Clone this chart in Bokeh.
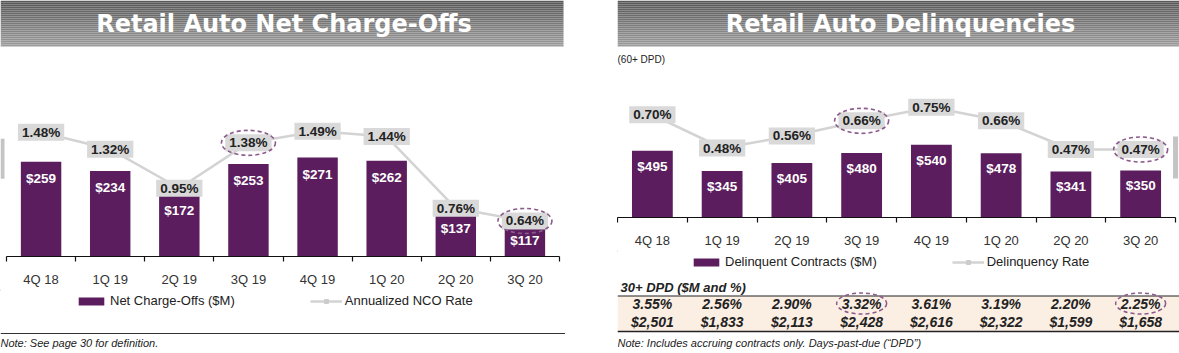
import numpy as np
from bokeh.plotting import figure
from bokeh.models import (Range1d, LinearAxis, FixedTicker, Legend, LegendItem, Spacer, Grid)
from bokeh.layouts import row, column
from bokeh.core.properties import value
from bokeh.embed import file_html
from bokeh.resources import INLINE

# ---------------- data ----------------
quarters = ["4Q 18", "1Q 19", "2Q 19", "3Q 19", "4Q 19", "1Q 20", "2Q 20", "3Q 20"]
nco_usd = [259, 234, 172, 253, 271, 262, 137, 117]
nco_rate = [1.48, 1.32, 0.95, 1.38, 1.49, 1.44, 0.76, 0.64]
dlq_usd = [495, 345, 405, 480, 540, 478, 341, 350]
dlq_rate = [0.70, 0.48, 0.56, 0.66, 0.75, 0.66, 0.47, 0.47]
dpd30_rate = [3.55, 2.56, 2.90, 3.32, 3.61, 3.19, 2.20, 2.25]
dpd30_usd = [2501, 1833, 2113, 2428, 2616, 2322, 1599, 1658]
highlight = ["3Q 19", "3Q 20"]

# ---------------- styles ----------------
BAR = "#5b1d5e"
LINE_GRAY = "#d3d3d3"
BOX_GRAY = "#d9d9d9"
HL = "#8c5a8c"
FONT = "Liberation Sans"
TXT = "#222222"

n = len(quarters)
centers = [i + 0.5 for i in range(n)]
bounds = [float(i) for i in range(n + 1)]
hl_idx = [quarters.index(q) for q in highlight]


def base_fig(w, h, xr, yr, mb=0):
    p = figure(width=w, height=h, x_range=xr, y_range=yr, output_backend="svg",
               toolbar_location=None, x_axis_location=None, y_axis_location=None,
               title=None, min_border_left=0, min_border_right=0, min_border_top=0,
               min_border_bottom=mb)
    p.outline_line_color = None
    p.border_fill_color = "white"
    p.background_fill_color = "white"
    for r in list(p.center):
        if isinstance(r, Grid):
            r.visible = False
    return p


def header(width, banner_w, title):
    h = figure(width=width, height=48, x_range=Range1d(0, width), y_range=Range1d(48, 0),
               output_backend="svg", toolbar_location=None, x_axis_location=None,
               y_axis_location=None, title=None, min_border=0)
    h.outline_line_color = None
    for r in list(h.center):
        if isinstance(r, Grid):
            r.visible = False
    steps = 23
    tops = [2 * i for i in range(steps)]
    shades = np.linspace(0x58, 0x9c, steps).astype(int)
    colors = ["#%02x%02x%02x" % (s, s, s) for s in shades]
    h.quad(left=0, right=banner_w, top=tops, bottom=[t + 2 for t in tops],
           fill_color=colors, line_color=None)
    h.segment(x0=0, y0=46, x1=banner_w, y1=46, line_color="#cfcfcf", line_width=1)
    h.text(x=[banner_w / 2 + 2], y=[23], text=[title], text_font=value("DejaVu Sans"),
           text_font_style="bold", text_font_size="24px", text_color="white",
           text_align="center", text_baseline="middle")
    return h


def chart(width, xr, usd, rate, frame_h, k, pxr, r0, lab_off):
    p = base_fig(width, frame_h + 30, xr, Range1d(0, frame_h / k), mb=30)
    p.extra_y_ranges = {"rate": Range1d(r0, r0 + frame_h / pxr)}

    p.vbar(x=centers, top=usd, width=0.585, bottom=0, fill_color=BAR, line_color=None)

    # value labels inside bars, kept clear of the rate boxes
    lab_y = []
    for v, r in zip(usd, rate):
        h_bar = v * k - lab_off
        h_rate = (r - r0) * pxr - 20
        lab_y.append(min(h_bar, h_rate) / k)
    p.text(x=centers, y=lab_y, text=["$%d" % v for v in usd], text_color="white",
           text_font=value(FONT), text_font_style="bold", text_font_size="13.5px",
           text_align="center", text_baseline="middle")

    p.line(x=centers, y=rate, y_range_name="rate", line_color=LINE_GRAY, line_width=2.5)
    p.text(x=centers, y=rate, y_range_name="rate", text=["%.2f%%" % r for r in rate],
           text_color=TXT, text_font=value(FONT), text_font_style="bold",
           text_font_size="13.5px", text_align="center", text_baseline="middle",
           background_fill_color=BOX_GRAY, padding=(4, 1))
    p.ellipse(x=[centers[i] for i in hl_idx], y=[rate[i] for i in hl_idx],
              y_range_name="rate", width=54, height=25, width_units="screen",
              height_units="screen", fill_color=None, line_color=HL, line_width=1.6,
              line_dash="4 3")

    ax = LinearAxis(ticker=FixedTicker(ticks=centers, minor_ticks=bounds),
                    major_label_overrides={c: q for c, q in zip(centers, quarters)},
                    bounds=(0, n))
    ax.axis_line_color = "#111111"
    ax.axis_line_width = 1.2
    ax.major_tick_line_color = None
    ax.major_tick_in = 0
    ax.major_tick_out = 0
    ax.minor_tick_in = 0
    ax.minor_tick_out = 5
    ax.minor_tick_line_color = "#111111"
    ax.minor_tick_line_width = 1.2
    ax.major_label_standoff = 10
    ax.major_label_text_font = FONT
    ax.major_label_text_font_size = "13px"
    ax.major_label_text_color = "#333333"
    p.add_layout(ax, "below")
    return p


def add_legend(f, bar_label, line_label, loc):
    # legend proxies: one point each, placed outside the visible range
    rb = f.vbar(x=[-50], top=[1], bottom=[0], width=0.5, fill_color=BAR, line_color=None)
    rl = f.line(x=[-50, -49], y=[1, 1], line_color=LINE_GRAY, line_width=2.5)
    rs = f.scatter(x=[-50], y=[1], marker="square", size=7, fill_color="#cccccc",
                   line_color="#cccccc")
    leg = Legend(items=[LegendItem(label=bar_label, renderers=[rb]),
                        LegendItem(label=line_label, renderers=[rl, rs])],
                 location=loc, orientation="horizontal")
    leg.glyph_width = 32
    leg.glyph_height = 10
    leg.label_height = 14
    leg.label_standoff = 3
    leg.spacing = 75
    leg.padding = 0
    leg.margin = 0
    leg.border_line_color = None
    leg.background_fill_alpha = 0
    leg.label_text_font = FONT
    leg.label_text_font_size = "13px"
    leg.label_text_color = TXT
    f.add_layout(leg)


# ---------------- left panel ----------------
WL = 565
xr_l = Range1d(-0.087, 8.087)
head_l = header(WL, 563, "Retail Auto Net Charge-Offs")
chart_l = chart(WL, xr_l, nco_usd, nco_rate, frame_h=211, k=0.371, pxr=107.1,
                r0=0.3035, lab_off=17)
# slice of the page-navigation arrow at the left edge
chart_l.rect(x=[-0.087 + 2 / 69.12], y=[267], width=4, height=40, width_units="screen",
             height_units="screen", fill_color="#c4c4c4", line_color=None)

foot_l = base_fig(WL, 64, xr_l, Range1d(64, 0))
add_legend(foot_l, "Net Charge-Offs ($M)", "Annualized NCO Rate", (75, 45))
foot_l.segment(x0=-0.087, y0=44, x1=8.087, y1=44, line_color="#333333", line_width=1)
foot_l.text(x=[-0.087], y=[53], text=["Note: See page 30 for definition."],
            text_font=value(FONT), text_font_style="italic", text_font_size="11px",
            text_color=TXT, text_align="left", text_baseline="middle")

# ---------------- right panel ----------------
WR = 562
xr_r = Range1d(0, 8.057)
head_r = header(WR, 562, "Retail Auto Delinquencies")
chart_r = chart(WR, xr_r, dlq_usd, dlq_rate, frame_h=172, k=0.137, pxr=153.6,
                r0=0.0195, lab_off=15.5)
chart_r.text(x=[0], y=[172 / 0.137], y_offset=11, text=["(60+ DPD)"],
             text_font=value(FONT), text_font_size="10px", text_color=TXT,
             text_align="left", text_baseline="middle")
# slice of the page-navigation arrow at the right edge
chart_r.rect(x=[8.0], y=[445], width=5, height=42, width_units="screen",
             height_units="screen", fill_color="#c4c4c4", line_color=None)

foot_r = base_fig(WR, 103, xr_r, Range1d(103, 0))
add_legend(foot_r, "Delinquent Contracts ($M)", "Delinquency Rate", (73, 84))
foot_r.quad(left=0, right=8.057, top=45.5, bottom=81, fill_color="#fbeee3", line_color=None)
foot_r.segment(x0=0, y0=45.5, x1=8.057, y1=45.5, line_color="#222222", line_width=1.2)
foot_r.segment(x0=0, y0=81, x1=8.057, y1=81, line_color="#222222", line_width=1.5)
foot_r.text(x=[0], y=[37], x_offset=3, text=["30+ DPD ($M and %)"], text_font=value(FONT),
            text_font_style="bold italic", text_font_size="13px", text_color=TXT,
            text_align="left", text_baseline="middle")
foot_r.text(x=centers, y=[53] * n, text=["%.2f%%" % r for r in dpd30_rate],
            text_font=value(FONT), text_font_style="bold italic", text_font_size="14px",
            text_color=TXT, text_align="center", text_baseline="middle")
foot_r.text(x=centers, y=[71] * n, text=["${:,}".format(v) for v in dpd30_usd],
            text_font=value(FONT), text_font_style="bold italic", text_font_size="14px",
            text_color=TXT, text_align="center", text_baseline="middle")
foot_r.ellipse(x=[centers[i] for i in hl_idx], y=[53] * len(hl_idx), width=50, height=21,
               width_units="screen", height_units="screen", fill_color=None,
               line_color=HL, line_width=1.5, line_dash="4 3")
foot_r.text(x=[0], y=[92], text=["Note: Includes accruing contracts only. Days-past-due (\u201cDPD\u201d)"],
            text_font=value(FONT), text_font_style="italic", text_font_size="11px",
            text_color=TXT, text_align="left", text_baseline="middle")

layout = row(column(head_l, chart_l, foot_l), Spacer(width=52, height=353),
             column(head_r, chart_r, foot_r))

open("out.html", "w").write(file_html(layout, INLINE))
